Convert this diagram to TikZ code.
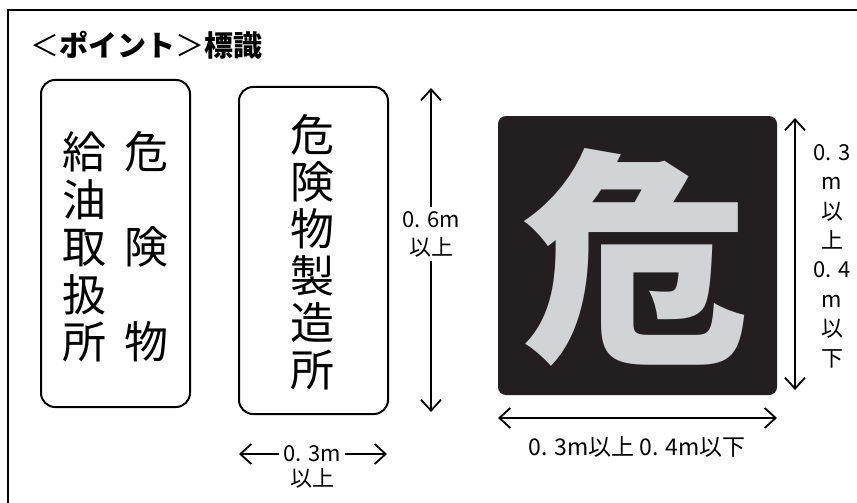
\documentclass[tikz,border=0pt]{standalone}
\usepackage{fontspec}
\setmainfont{Noto Sans CJK JP}
\usetikzlibrary{arrows.meta}
\definecolor{signblack}{HTML}{231F20}
\definecolor{signgrey}{HTML}{D1D3D4}
\tikzset{
  signbox/.style={draw,line width=2pt,rounded corners=14pt,inner sep=0pt},
  tip/.style={-{Straight Barb[length=11pt,width=20pt]},line width=1.8pt},
  dimline/.style={{Straight Barb[length=11pt,width=20pt]}-{Straight Barb[length=11pt,width=20pt]},line width=1.8pt},
  lbl/.style={font=\fontsize{22}{28}\selectfont,align=center,inner sep=4pt}
}
\begin{document}
\begin{tikzpicture}[x=1pt,y=-1pt]
	\useasboundingbox (0,0) rectangle (857,503);
	\draw[line width=1.5pt] (8,503) -- (8,10) -- (857,10);
	\node[anchor=west,inner sep=0pt,font=\fontsize{29}{29}\selectfont] (title) at (30,45) {＜\textbf{ポイント}＞\textbf{標識}};
	% signs
	\node[signbox,minimum width=149pt,minimum height=327pt] (sign1) at (115.5,243.5) {};
	\node[font=\fontsize{44}{47.5}\selectfont,align=center] (s1a) at (84,247) {給\\油\\取\\扱\\所};
	\node[font=\fontsize{44}{95}\selectfont,align=center] (s1b) at (146,247) {危\\険\\物};
	\node[signbox,minimum width=149pt,minimum height=327pt] (sign2) at (313.5,250.5) {};
	\node[font=\fontsize{44}{47}\selectfont,align=center] (s2) at (312,252) {危\\険\\物\\製\\造\\所};
	\node[signbox,draw=none,fill=signblack,rounded corners=8pt,minimum width=279pt,minimum height=279pt] (sign3) at (637.5,255.5) {};
	\node[text=signgrey,font=\fontsize{228}{228}\selectfont\bfseries] (kiken) at (635,257) {危};
	% dimensions
	\node[lbl] (h1) at (431,234) {0. 6m\\以上};
	\coordinate (h1t) at (431,88);
	\coordinate (h1b) at (431,412);
	\draw[tip] (h1) -- (h1t);
	\draw[tip] (h1) -- (h1b);
	\node[lbl] (w1) at (312,454) {0. 3m};
	\node[lbl] (w1b) at (312,478) {以上};
	\coordinate (w1l) at (239,454);
	\coordinate (w1r) at (387,454);
	\draw[tip] (w1) -- (w1l);
	\draw[tip] (w1) -- (w1r);
	\coordinate (h3t) at (795,118);
	\coordinate (h3b) at (795,390);
	\draw[dimline] (h3t) -- (h3b);
	\node[lbl,font=\fontsize{22}{29.4}\selectfont] (h3) at (832,256) {0. 3\\m\\以\\上\\0. 4\\m\\以\\下};
	\coordinate (w3l) at (498,418);
	\coordinate (w3r) at (777,418);
	\draw[dimline] (w3l) -- (w3r);
	\node[lbl,font=\fontsize{23}{28}\selectfont] (w3) at (637,447) {0. 3m以上 0. 4m以下};
\end{tikzpicture}
\end{document}
